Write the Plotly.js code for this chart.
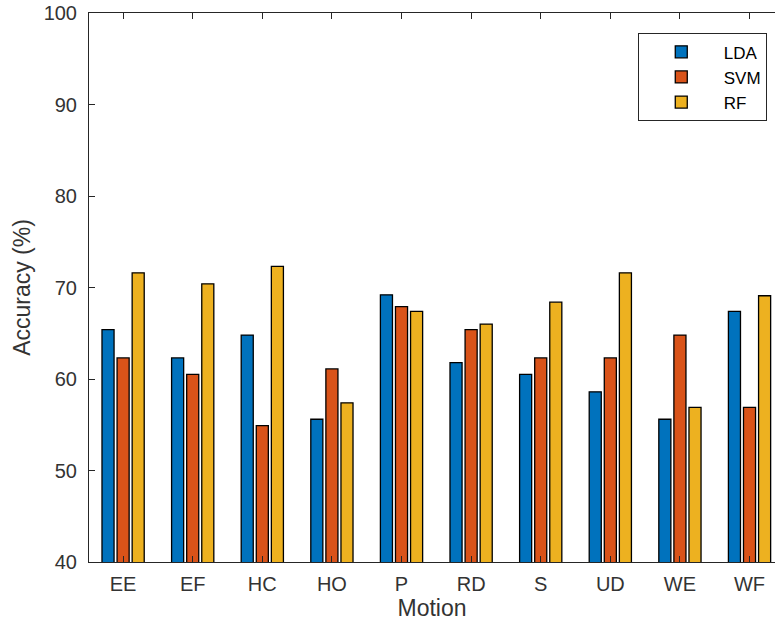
<!DOCTYPE html>
<html>
<head>
<meta charset="utf-8">
<script src="https://cdn.plot.ly/plotly-3.0.1.min.js"></script>
<style>html,body{margin:0;padding:0;background:#fff;overflow:hidden;}</style>
</head>
<body>
<div id="chart" style="width:775px;height:629px;"></div>
<script>
const motions = ["EE", "EF", "HC", "HO", "P", "RD", "S", "UD", "WE", "WF"];
const lda = [65.4, 62.3, 64.8, 55.6, 69.2, 61.8, 60.5, 58.6, 55.6, 67.4];
const svm = [62.3, 60.5, 54.9, 61.1, 67.9, 65.4, 62.3, 62.3, 64.8, 56.9];
const rf  = [71.6, 70.4, 72.3, 57.4, 67.4, 66.0, 68.4, 71.6, 56.9, 69.1];
const seriesNames = ["LDA", "SVM", "RF"];
const seriesColors = ["#0072BD", "#D95319", "#EDB120"];
const yTicks = [40, 50, 60, 70, 80, 90, 100];

const traces = [lda, svm, rf].map((vals, i) => ({
  type: "bar",
  name: seriesNames[i],
  x: motions,
  y: vals,
  base: 0,
  marker: {color: seriesColors[i], line: {color: "#000000", width: 1.3}},
  hoverinfo: "x+y+name"
}));

const textColor = "#333333";
const layout = {
  width: 775,
  height: 629,
  margin: {l: 89, r: 0, t: 13, b: 67},
  paper_bgcolor: "#ffffff",
  plot_bgcolor: "#ffffff",
  barmode: "group",
  bargap: 0.35,
  bargroupgap: 0.2,
  showlegend: true,
  font: {family: "Liberation Sans, Arial, sans-serif", color: textColor, size: 20},
  legend: {
    x: 0.988, y: 0.963, xanchor: "right", yanchor: "top",
    bgcolor: "#ffffff", bordercolor: "#262626", borderwidth: 1,
    font: {size: 17, color: "#000000"},
    itemwidth: 75,
    tracegroupgap: 0
  },
  xaxis: {
    type: "category",
    range: [-0.49, 9.366],
    showline: true, linecolor: "#262626", linewidth: 1,
    mirror: "ticks",
    ticks: "inside", ticklen: 6, tickcolor: "#262626",
    ticklabelstandoff: 4,
    showgrid: false, zeroline: false,
    tickfont: {size: 20, color: textColor},
    title: {text: "Motion", font: {size: 23, color: textColor}, standoff: 5}
  },
  yaxis: {
    range: [40, 100],
    tickvals: yTicks,
    ticktext: yTicks.map(String),
    showline: true, linecolor: "#262626", linewidth: 1,
    mirror: false,
    ticks: "inside", ticklen: 6, tickcolor: "#262626",
    ticklabelstandoff: 7,
    showgrid: false, zeroline: false,
    tickfont: {size: 20, color: textColor},
    title: {text: "Accuracy (%)", font: {size: 23, color: textColor}, standoff: 6}
  }
};

Plotly.newPlot("chart", traces, layout, {displayModeBar: false, staticPlot: true});
</script>
</body>
</html>
